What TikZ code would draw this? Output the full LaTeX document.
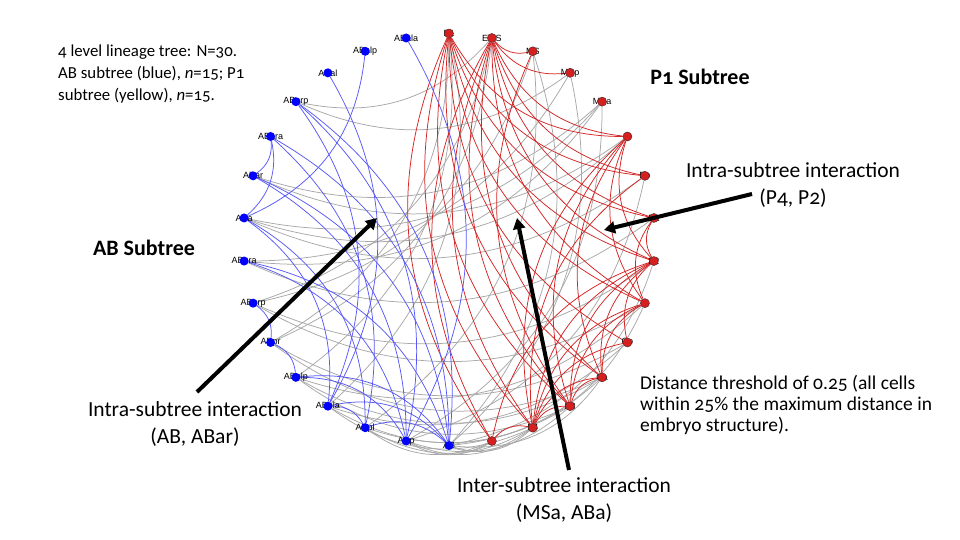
\documentclass[tikz,border=0pt]{standalone}
\usepackage{fontspec}
\setmainfont{Carlito}[Numbers=OldStyle]
\newfontfamily\lblfont{Liberation Sans}
\usetikzlibrary{arrows.meta}
\pgfdeclarelayer{edgelayer}
\pgfdeclarelayer{labellayer}
\pgfsetlayers{edgelayer,labellayer,main}
\definecolor{nodered}{RGB}{214,32,32}
\definecolor{noderim}{RGB}{90,40,40}
\definecolor{nodeblue}{RGB}{0,0,255}
\definecolor{edgered}{RGB}{212,36,36}
\definecolor{edgeblue}{RGB}{88,88,250}
\definecolor{edgegrey}{RGB}{168,168,168}
\newcommand\myedge[3]{\draw[#1] (#2) to[bend right=30] (#3);}
\begin{document}
\begin{tikzpicture}[x=1pt,y=-1pt,
  rdot/.style={circle,fill=nodered,draw=noderim,line width=0.5pt,inner sep=0pt,minimum size=9pt},
  bdot/.style={circle,fill=nodeblue,inner sep=0pt,minimum size=9pt},
  lbl/.style={font=\lblfont\fontsize{9}{10}\selectfont,inner sep=0pt,text=black},
  redge/.style={draw=edgered,line width=0.75pt},
  bedge/.style={draw=edgeblue,line width=0.75pt},
  gedge/.style={draw=edgegrey,line width=0.75pt},
  bigarrow/.style={line width=4pt,-{Triangle[length=11pt,width=12pt]}},
  note/.style={align=left,anchor=west,inner sep=0pt,font=\fontsize{16.8}{22}\selectfont},
  dnote/.style={align=left,anchor=west,inner sep=0pt,font=\fontsize{19.5}{21}\selectfont},
  callout/.style={align=center,inner sep=0pt,font=\fontsize{21.5}{27}\selectfont},
  title/.style={inner sep=0pt,font=\bfseries\fontsize{22}{24}\selectfont}]
\useasboundingbox (0,0) rectangle (960,540);
\begin{pgfonlayer}{edgelayer}
\fill[white] (0,0) rectangle (960,540);
\end{pgfonlayer}
\begin{scope}[shift={(449,239.5)}]
\foreach \n/\l/\i in {P1/P1/0,EMS/EMS/1,MS/MS/2,MSp/MSp/3,MSa/MSa/4,E/E/5,Ep/Ep/6,Ea/Ea/7,P2/P2/8,C/C/9,Cp/Cp/10,Ca/Ca/11,P3/P3/12,P4/P4/13,D/D/14}{
  \begin{pgfonlayer}{labellayer}
  \node[lbl] (l\n) at ({90-12*\i}:206pt) {\l};
  \end{pgfonlayer}
  \node[rdot] (\n) at ({90-12*\i}:206pt) {};
}
\foreach \n/\i in {AB/15,ABp/16,ABpl/17,ABpla/18,ABplp/19,ABpr/20,ABprp/21,ABpra/22,ABa/23,ABar/24,ABara/25,ABarp/26,ABal/27,ABalp/28,ABala/29}{
  \begin{pgfonlayer}{labellayer}
  \node[lbl] (l\n) at ({90-12*\i}:206pt) {\n};
  \end{pgfonlayer}
  \node[bdot] (\n) at ({90-12*\i}:206pt) {};
}
\end{scope}
\begin{pgfonlayer}{edgelayer}
% inter-subtree (grey)
\myedge{gedge}{ABarp}{EMS}
\myedge{gedge}{ABar}{MSa}
\myedge{gedge}{ABar}{E}
\myedge{gedge}{ABa}{MSa}
\myedge{gedge}{ABa}{Ep}
\myedge{gedge}{ABa}{E}
\myedge{gedge}{ABpra}{MSp}
\myedge{gedge}{ABpra}{MSa}
\myedge{gedge}{ABpra}{Ea}
\myedge{gedge}{ABprp}{MS}
\myedge{gedge}{ABprp}{EMS}
\myedge{gedge}{ABprp}{C}
\myedge{gedge}{ABprp}{P2}
\myedge{gedge}{ABpr}{P1}
\myedge{gedge}{ABpr}{EMS}
\myedge{gedge}{ABpr}{Cp}
\myedge{gedge}{ABpr}{Ca}
\myedge{gedge}{ABplp}{C}
\myedge{gedge}{ABplp}{Ca}
\myedge{gedge}{ABplp}{P3}
\myedge{gedge}{ABplp}{P1}
\myedge{gedge}{ABpla}{Cp}
\myedge{gedge}{ABpla}{P3}
\myedge{gedge}{ABpla}{P4}
\myedge{gedge}{ABpla}{P1}
\myedge{gedge}{ABpl}{Ca}
\myedge{gedge}{ABpl}{P4}
\myedge{gedge}{ABpl}{D}
\myedge{gedge}{ABpl}{MS}
\myedge{gedge}{ABp}{P3}
\myedge{gedge}{ABp}{D}
\myedge{gedge}{ABp}{P4}
\myedge{gedge}{ABp}{MSa}
\myedge{gedge}{ABp}{Ep}
\myedge{gedge}{AB}{D}
\myedge{gedge}{AB}{P4}
\myedge{gedge}{AB}{Ca}
\myedge{gedge}{AB}{C}
\myedge{gedge}{AB}{P2}
\myedge{gedge}{AB}{MSp}
\myedge{gedge}{AB}{MS}
\myedge{gedge}{ABarp}{MSp}
% intra P1 (red)
\foreach \t in {E,Ep,Ea,P2,C,Cp,Ca,P3,P4,D}{\myedge{redge}{P1}{\t}}
\foreach \t in {MS,MSp,E,Ep,Ea,P2,C,Ca,P3,P4,D}{\myedge{redge}{EMS}{\t}}
\myedge{redge}{MS}{P3}
\foreach \t in {P2,C,Ca,P3,P4}{\myedge{redge}{E}{\t}}
\myedge{redge}{Ep}{P4}
\myedge{redge}{Ea}{P2}
\myedge{redge}{Ea}{C}
\foreach \t in {Cp,Ca,P3,P4,D}{\myedge{redge}{P2}{\t}}
\foreach \t in {Ca,P3,P4}{\myedge{redge}{C}{\t}}
\myedge{redge}{Cp}{P4}
\myedge{redge}{Ca}{P3}
\myedge{redge}{Ca}{P4}
\myedge{redge}{P3}{P4}
\myedge{redge}{P4}{D}
% intra AB (blue)
\myedge{bedge}{ABp}{ABala}
\myedge{bedge}{ABa}{ABalp}
\myedge{bedge}{ABpla}{ABal}
\myedge{bedge}{ABa}{ABara}
\myedge{bedge}{ABar}{ABara}
\myedge{bedge}{AB}{ABarp}
\myedge{bedge}{ABp}{ABarp}
\myedge{bedge}{AB}{ABara}
\myedge{bedge}{ABpl}{ABara}
\myedge{bedge}{ABp}{ABar}
\myedge{bedge}{AB}{ABar}
\myedge{bedge}{ABpla}{ABa}
\myedge{bedge}{ABpl}{ABa}
\myedge{bedge}{AB}{ABpra}
\myedge{bedge}{ABpr}{ABprp}
\myedge{bedge}{ABplp}{ABpr}
\myedge{bedge}{AB}{ABplp}
\myedge{bedge}{ABp}{ABplp}
\myedge{bedge}{ABpl}{ABpla}
\myedge{bedge}{AB}{ABpla}
\myedge{bedge}{ABpla}{ABarp}
\myedge{bedge}{AB}{ABpl}
\myedge{bedge}{ABp}{ABpra}
\end{pgfonlayer}
% texts
\node[note] (info) at (58,74) {4 level lineage tree: N=30.\\AB subtree (blue), \textit{n}=15; P1\\subtree (yellow), \textit{n}=15.};
\node[title] (p1sub) at (700,77) {P1 Subtree};
\node[title] (absub) at (144,248) {AB Subtree};
\node[callout] (c1) at (793,185.5) {Intra-subtree interaction\\(P4, P2)};
\node[callout] (c2) at (195,424.5) {Intra-subtree interaction\\(AB, ABar)};
\node[callout] (c3) at (564,500) {Inter-subtree interaction\\(MSa, ABa)};
\node[dnote] (dist) at (640,405) {Distance threshold of 0.25 (all cells\\within 25\% the maximum distance in\\embryo structure).};
% arrows
\coordinate (a1s) at (197,392); \coordinate (a1e) at (377,218);
\coordinate (a2s) at (569,470); \coordinate (a2e) at (517,218);
\coordinate (a3s) at (752,194); \coordinate (a3e) at (604,230);
\draw[bigarrow] (a1s) -- (a1e);
\draw[bigarrow] (a2s) -- (a2e);
\draw[bigarrow] (a3s) -- (a3e);
\end{tikzpicture}
\end{document}
